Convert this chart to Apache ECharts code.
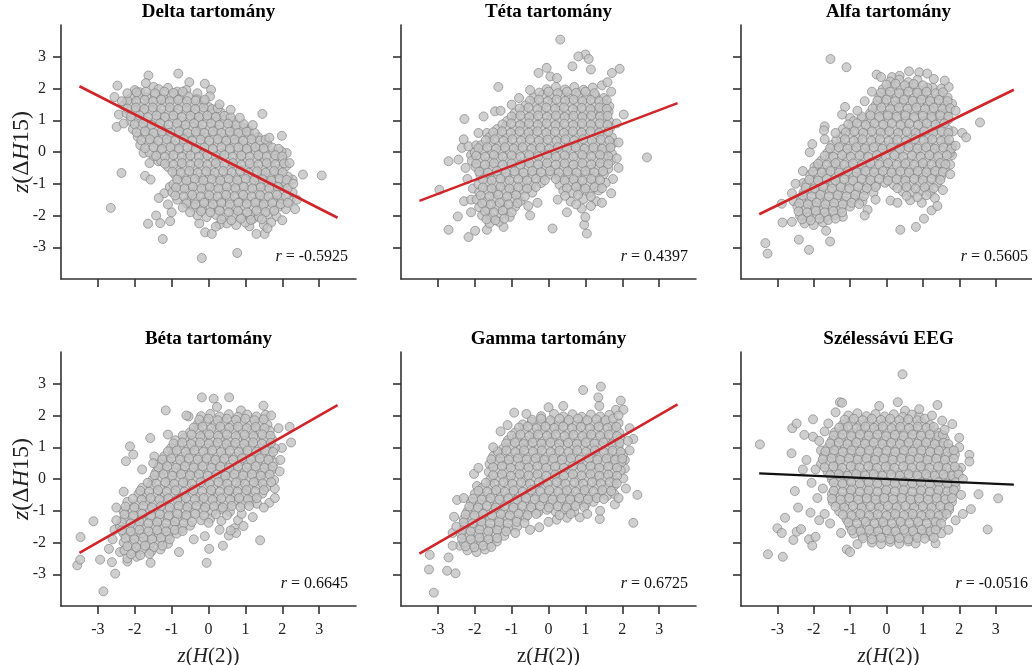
<!DOCTYPE html>
<html><head><meta charset="utf-8">
<script src="https://cdn.jsdelivr.net/npm/echarts@6/dist/echarts.min.js"></script>
<style>html,body{margin:0;padding:0;background:#fff}#c{width:1032px;height:665px}</style>
</head><body><div id="c"></div>
<script>
// ---------- data ----------
const panelTitles = ['Delta tartomány','Téta tartomány','Alfa tartomány','Béta tartomány','Gamma tartomány','Szélessávú EEG'];
const rValues = ['-0.5925','0.4397','0.5605','0.6645','0.6725','-0.0516'];
const tickValues = [-3,-2,-1,0,1,2,3];
const tickLabels = ['-3','-2','-1','0','1','2','3'];

// regression line end points [x, y]
const lineDelta = [[-3.5,2.07],[3.5,-2.07]];
const lineTheta = [[-3.5,-1.54],[3.5,1.54]];
const lineAlpha = [[-3.5,-1.96],[3.5,1.96]];
const lineBeta  = [[-3.5,-2.33],[3.5,2.33]];
const lineGamma = [[-3.5,-2.35],[3.5,2.35]];
const lineBroad = [[-3.5,0.18],[3.5,-0.18]];

// scatter points, flat [x, y, x, y, ...]
const deltaXY = [
-2.65,-1.76,-2.47,2.09,-2.55,1.73,-2.43,1.18,-2.49,0.79,-2.36,-0.66,-1.72,-0.75,-1.57,-0.87,-1.64,-2.26,-1.42,-2.0,-1.31,-2.24,-1.24,-2.74,-1.04,-2.18,-1.0,-1.9,-0.18,-3.34,0.78,-3.18,-0.09,-2.53,0.09,-2.58,-0.25,-2.25,-1.63,2.41,-1.7,2.17,-1.49,2.05,-0.82,2.47,-0.52,2.2,-0.1,2.15,0.07,1.96,0.04,1.75,1.46,1.2,1.99,0.51,2.56,-0.71,3.07,-0.74,2.28,-0.87,2.35,-1.8,2.12,-0.03,1.52,-2.58,1.3,-2.58,1.11,-2.34,1.22,-2.1,-1.1,-1.65,-1.2,-1.3,-1.05,-1.1,-1.49,-0.14,-1.36,-0.29,-1.76,-0.03,
-2.0,1.95,-1.85,1.88,-1.35,1.98,-1.1,2.02,-0.85,1.9,-0.6,1.95,-0.3,1.85,
-2.1,1.7,-1.9,1.78,-1.68,1.72,-1.45,1.8,-1.22,1.7,-1.0,1.78,-0.78,1.68,-0.55,1.75,-0.32,1.66,
-2.3,1.47,-2.08,1.52,-1.86,1.45,-1.62,1.55,-1.4,1.48,-1.17,1.56,-0.94,1.46,-0.7,1.53,-0.47,1.45,-0.22,1.5,0.0,1.42,
-2.22,1.22,-2.0,1.3,-1.76,1.25,-1.53,1.3,-1.3,1.2,-1.07,1.28,-0.84,1.22,-0.6,1.3,-0.37,1.2,-0.14,1.27,0.1,1.2,0.33,1.25,
-2.12,0.98,-1.9,1.05,-1.66,0.96,-1.42,1.04,-1.2,0.97,-0.96,1.05,-0.72,0.96,-0.5,1.03,-0.26,0.97,-0.03,1.04,0.2,0.95,0.44,1.02,0.67,0.98,
-2.05,0.72,-1.83,0.8,-1.6,0.72,-1.36,0.78,-1.12,0.7,-0.9,0.78,-0.66,0.72,-0.43,0.8,-0.2,0.71,0.04,0.78,0.27,0.7,0.5,0.77,0.73,0.7,0.95,0.76,1.1,0.68,
-1.92,0.48,-1.7,0.55,-1.46,0.47,-1.23,0.53,-1.0,0.46,-0.77,0.54,-0.54,0.47,-0.3,0.55,-0.07,0.46,0.16,0.53,0.4,0.45,0.63,0.52,0.86,0.46,1.1,0.54,1.35,0.47,
-1.85,0.22,-1.62,0.3,-1.38,0.2,-1.15,0.28,-0.92,0.21,-0.68,0.3,-0.45,0.22,-0.22,0.28,0.02,0.2,0.25,0.3,0.48,0.21,0.72,0.28,0.95,0.2,1.18,0.27,1.4,0.2,1.6,0.26,
-1.6,-0.02,-1.3,0.05,-1.05,-0.03,-0.82,0.05,-0.58,-0.04,-0.35,0.04,-0.12,-0.03,0.12,0.05,0.35,-0.04,0.58,0.04,0.82,-0.03,1.05,0.05,1.28,-0.02,1.52,0.04,1.75,-0.04,1.98,0.02,
-1.28,-0.28,-1.05,-0.2,-0.8,-0.28,-0.57,-0.2,-0.34,-0.29,-0.1,-0.21,0.14,-0.28,0.37,-0.2,0.6,-0.29,0.84,-0.21,1.07,-0.28,1.3,-0.2,1.54,-0.29,1.77,-0.21,2.02,-0.27,
-1.1,-0.47,-0.88,-0.55,-0.64,-0.48,-0.4,-0.55,-0.16,-0.46,0.07,-0.54,0.3,-0.47,0.54,-0.55,0.77,-0.46,1.0,-0.54,1.24,-0.47,1.47,-0.55,1.7,-0.47,1.93,-0.53,2.1,-0.45,
-0.9,-0.72,-0.67,-0.8,-0.43,-0.71,-0.2,-0.79,0.04,-0.72,0.27,-0.8,0.5,-0.71,0.74,-0.79,0.97,-0.72,1.2,-0.8,1.44,-0.71,1.67,-0.78,1.9,-0.7,2.15,-0.77,
-0.95,-1.02,-0.72,-0.96,-0.48,-1.04,-0.25,-0.97,-0.02,-1.05,0.22,-0.96,0.45,-1.04,0.68,-0.97,0.92,-1.05,1.15,-0.96,1.38,-1.03,1.62,-0.97,1.85,-1.04,2.1,-0.97,
-0.98,-1.27,-0.75,-1.2,-0.52,-1.28,-0.28,-1.21,-0.05,-1.29,0.18,-1.2,0.42,-1.28,0.65,-1.21,0.88,-1.29,1.12,-1.2,1.35,-1.28,1.58,-1.21,1.82,-1.28,2.05,-1.2,2.28,-1.27,
-0.85,-1.5,-0.6,-1.56,-0.36,-1.48,-0.12,-1.55,0.12,-1.47,0.35,-1.55,0.58,-1.48,0.82,-1.56,1.05,-1.47,1.28,-1.54,1.52,-1.46,1.75,-1.54,1.98,-1.47,2.22,-1.53,
-0.42,-1.72,-0.18,-1.8,0.05,-1.73,0.28,-1.8,0.52,-1.72,0.75,-1.79,0.98,-1.71,1.22,-1.78,1.45,-1.71,1.68,-1.79,1.92,-1.72,2.1,-1.8,
-0.3,-2.0,-0.05,-2.05,0.2,-1.98,0.43,-2.06,0.67,-1.99,0.9,-2.05,1.13,-1.98,1.37,-2.04,1.6,-1.97,1.85,-2.03,
0.5,-2.25,0.75,-2.3,1.0,-2.22,1.5,-2.3,1.7,-2.22,0.3,-2.28,
-1.95,1.88,-1.7,1.9,-1.45,1.85,-1.2,1.9,-0.95,1.86,-0.7,1.9,
-2.2,1.62,-1.96,1.6,-1.73,1.64,-1.5,1.6,-1.28,1.65,-1.05,1.6,-0.82,1.64,-0.58,1.6,-0.35,1.62,-0.12,1.6,
-2.2,1.37,-1.97,1.4,-1.74,1.35,-1.51,1.4,-1.28,1.36,-1.05,1.4,-0.82,1.35,-0.59,1.39,-0.36,1.35,-0.13,1.4,0.1,1.35,0.25,1.38,
-2.1,1.12,-1.87,1.15,-1.64,1.1,-1.41,1.15,-1.18,1.1,-0.95,1.15,-0.72,1.1,-0.49,1.14,-0.26,1.1,-0.03,1.15,0.2,1.1,0.43,1.14,0.6,1.1,
-2.0,0.87,-1.77,0.9,-1.54,0.85,-1.31,0.9,-1.08,0.86,-0.85,0.9,-0.62,0.85,-0.39,0.9,-0.16,0.86,0.07,0.9,0.3,0.85,0.53,0.89,0.76,0.85,0.95,0.88,
-1.95,0.62,-1.72,0.65,-1.49,0.6,-1.26,0.65,-1.03,0.61,-0.8,0.65,-0.57,0.6,-0.34,0.64,-0.11,0.6,0.12,0.65,0.35,0.6,0.58,0.64,0.81,0.6,1.04,0.64,1.25,0.6,
-1.82,0.37,-1.59,0.4,-1.36,0.35,-1.13,0.4,-0.9,0.36,-0.67,0.4,-0.44,0.35,-0.21,0.39,0.02,0.35,0.25,0.4,0.48,0.35,0.71,0.39,0.94,0.35,1.17,0.4,1.4,0.36,1.55,0.39,
-1.72,0.12,-1.49,0.15,-1.26,0.1,-1.03,0.15,-0.8,0.11,-0.57,0.15,-0.34,0.1,-0.11,0.14,0.12,0.1,0.35,0.15,0.58,0.1,0.81,0.14,1.04,0.1,1.27,0.15,1.5,0.11,1.73,0.14,1.9,0.1,
-1.42,-0.12,-1.18,-0.15,-0.95,-0.1,-0.72,-0.15,-0.49,-0.11,-0.26,-0.15,-0.03,-0.1,0.2,-0.14,0.43,-0.1,0.66,-0.15,0.89,-0.11,1.12,-0.15,1.35,-0.1,1.58,-0.14,1.81,-0.1,2.0,-0.14,
-1.18,-0.37,-0.95,-0.4,-0.72,-0.35,-0.49,-0.4,-0.26,-0.36,-0.03,-0.4,0.2,-0.35,0.43,-0.39,0.66,-0.35,0.89,-0.4,1.12,-0.36,1.35,-0.4,1.58,-0.35,1.81,-0.39,2.05,-0.36,
-0.98,-0.62,-0.75,-0.65,-0.52,-0.6,-0.29,-0.65,-0.06,-0.61,0.17,-0.65,0.4,-0.6,0.63,-0.64,0.86,-0.6,1.09,-0.65,1.32,-0.61,1.55,-0.65,1.78,-0.6,2.01,-0.64,
-0.85,-0.87,-0.6,-0.9,-0.37,-0.85,-0.14,-0.9,0.09,-0.86,0.32,-0.9,0.55,-0.85,0.78,-0.89,1.01,-0.85,1.24,-0.9,1.47,-0.86,1.7,-0.9,1.93,-0.85,2.12,-0.88,
-0.88,-1.12,-0.65,-1.15,-0.42,-1.1,-0.19,-1.15,0.04,-1.11,0.27,-1.15,0.5,-1.1,0.73,-1.14,0.96,-1.1,1.19,-1.15,1.42,-1.11,1.65,-1.15,1.88,-1.1,2.15,-1.14,
-0.9,-1.37,-0.67,-1.4,-0.44,-1.35,-0.21,-1.4,0.02,-1.36,0.25,-1.4,0.48,-1.35,0.71,-1.39,0.94,-1.35,1.17,-1.4,1.4,-1.36,1.63,-1.4,1.86,-1.35,2.1,-1.39,
-0.6,-1.62,-0.36,-1.65,-0.12,-1.6,0.12,-1.65,0.35,-1.61,0.58,-1.65,0.81,-1.6,1.04,-1.64,1.27,-1.6,1.5,-1.65,1.73,-1.61,1.96,-1.64,2.15,-1.6,
-0.2,-1.87,0.05,-1.9,0.3,-1.85,0.55,-1.9,0.8,-1.86,1.05,-1.9,1.3,-1.85,1.55,-1.89,1.78,-1.85,
0.35,-2.12,0.62,-2.15,0.88,-2.1,1.15,-2.14,1.45,-2.12
];
const deltaEdge = [0.6,1.33,0.85,1.08,1.2,0.85,1.65,0.45,2.2,-0.35,2.3,-1.0,2.4,-1.5,2.0,-2.15,1.6,-2.4,0.2,-2.35,-0.5,-1.9,-0.7,-1.75,-1.35,-1.45,-1.6,-0.35,-2.3,0.9,-2.35,1.6,-2.2,1.85,-0.1,1.65,0.3,1.5];
const thetaXY = [
0.32,3.54,1.0,3.07,1.09,2.93,0.81,3.01,0.65,2.7,1.15,2.6,1.93,2.62,1.72,2.49,-0.05,2.65,-0.27,2.49,0.05,2.38,0.23,2.33,-1.36,2.05,-2.28,1.04,-1.76,1.12,-1.0,1.49,-2.71,-0.29,-2.44,-0.24,-2.96,-1.19,-2.35,0.13,-2.17,0.18,-1.96,0.21,-2.46,-2.03,-2.71,-2.45,-2.17,-2.68,-1.99,-2.48,-1.67,-2.45,-1.22,-2.36,0.11,-2.41,1.04,-2.57,0.97,-2.29,2.67,-0.17,2.04,1.18,-2.29,-1.55,-2.1,-1.5,-1.67,0.6,-1.45,1.28,-2.1,-0.1,-2.2,-0.85,-2.05,-1.15,1.75,-0.85,1.9,-0.5,
-0.05,1.98,0.2,2.05,0.45,1.97,0.7,2.05,0.95,1.96,1.2,2.03,1.45,2.1,
-0.4,1.72,-0.16,1.8,0.08,1.72,0.32,1.79,0.55,1.7,0.8,1.78,1.03,1.7,1.27,1.77,1.5,1.7,
-0.62,1.47,-0.38,1.55,-0.15,1.47,0.1,1.54,0.33,1.46,0.57,1.55,0.8,1.47,1.04,1.53,1.27,1.45,1.5,1.52,1.65,1.44,
-0.92,1.22,-0.68,1.29,-0.44,1.2,-0.2,1.28,0.04,1.21,0.27,1.29,0.5,1.2,0.74,1.27,0.97,1.2,1.2,1.28,1.43,1.21,1.63,1.27,
-1.12,0.98,-0.88,1.04,-0.64,0.96,-0.4,1.03,-0.17,0.95,0.07,1.04,0.3,0.97,0.54,1.05,0.77,0.96,1.0,1.03,1.24,0.97,1.47,1.04,1.65,0.96,
-1.4,0.72,-1.16,0.8,-0.92,0.71,-0.68,0.79,-0.45,0.7,-0.21,0.78,0.03,0.71,0.26,0.79,0.5,0.7,0.73,0.78,0.97,0.72,1.2,0.8,1.44,0.71,1.68,0.77,
-1.6,0.47,-1.36,0.55,-1.12,0.46,-0.88,0.54,-0.64,0.47,-0.41,0.55,-0.17,0.46,0.06,0.53,0.3,0.46,0.53,0.54,0.77,0.47,1.0,0.55,1.24,0.46,1.47,0.53,1.72,0.46,
-1.82,0.22,-1.58,0.3,-1.34,0.21,-1.1,0.28,-0.86,0.2,-0.62,0.29,-0.38,0.21,-0.15,0.28,0.09,0.2,0.32,0.29,0.56,0.21,0.8,0.28,1.03,0.2,1.27,0.28,1.5,0.21,1.74,0.27,
-2.0,-0.02,-1.76,0.05,-1.52,-0.04,-1.28,0.04,-1.04,-0.03,-0.8,0.05,-0.57,-0.04,-0.33,0.04,-0.09,-0.03,0.14,0.05,0.38,-0.04,0.62,0.04,0.85,-0.03,1.09,0.05,1.32,-0.02,1.56,0.04,1.72,-0.05,
-2.08,-0.28,-1.84,-0.2,-1.6,-0.29,-1.36,-0.21,-1.12,-0.28,-0.88,-0.2,-0.64,-0.29,-0.4,-0.21,-0.16,-0.28,0.08,-0.2,0.31,-0.29,0.55,-0.21,0.78,-0.28,1.02,-0.2,1.26,-0.29,1.5,-0.21,1.7,-0.28,
-1.98,-0.47,-1.74,-0.55,-1.5,-0.46,-1.26,-0.54,-1.02,-0.47,-0.78,-0.55,-0.54,-0.46,-0.3,-0.54,-0.06,-0.47,0.18,-0.55,0.42,-0.46,0.65,-0.54,0.89,-0.47,1.13,-0.55,1.37,-0.46,1.62,-0.53,
-1.85,-0.72,-1.6,-0.8,-1.37,-0.71,-1.13,-0.79,-0.9,-0.7,-0.66,-0.78,-0.42,-0.72,-0.18,-0.8,0.06,-0.71,0.3,-0.79,0.54,-0.72,0.78,-0.8,1.02,-0.71,1.26,-0.78,1.5,-0.7,
-1.9,-1.02,-1.66,-0.96,-1.42,-1.05,-1.18,-0.97,-0.94,-1.04,-0.7,-0.96,-0.46,-1.04,-0.2,-0.98,0.3,-1.03,0.55,-0.96,0.8,-1.04,1.05,-0.97,1.3,-1.04,1.55,-0.97,
-1.88,-1.27,-1.64,-1.2,-1.4,-1.28,-1.16,-1.21,-0.92,-1.29,-0.68,-1.2,-0.44,-1.28,0.4,-1.22,0.64,-1.29,0.88,-1.2,1.12,-1.28,1.36,-1.21,
-1.95,-1.5,-1.72,-1.56,-1.48,-1.48,-1.24,-1.55,-1.0,-1.47,-0.76,-1.54,0.25,-1.5,0.6,-1.56,0.95,-1.48,1.3,-1.55,
-1.88,-1.74,-1.64,-1.8,-1.4,-1.72,-1.16,-1.79,-0.9,-1.72,0.9,-1.78,1.15,-1.7,
-1.8,-2.0,-1.55,-2.06,-1.3,-1.98,-1.05,-2.04,1.0,-2.05,
-1.6,-2.25,-1.35,-2.2,
-0.25,1.87,0.0,1.9,0.25,1.85,0.5,1.9,0.75,1.86,1.0,1.9,1.25,1.85,
-0.5,1.62,-0.26,1.65,-0.02,1.6,0.22,1.65,0.45,1.61,0.68,1.65,0.92,1.6,1.15,1.64,1.38,1.6,1.58,1.63,
-0.78,1.37,-0.54,1.4,-0.3,1.35,-0.06,1.4,0.18,1.36,0.42,1.4,0.66,1.35,0.9,1.39,1.14,1.35,1.38,1.4,1.58,1.36,
-1.0,1.12,-0.76,1.15,-0.52,1.1,-0.28,1.15,-0.04,1.11,0.2,1.15,0.44,1.1,0.68,1.14,0.92,1.1,1.16,1.15,1.4,1.11,1.6,1.14,
-1.25,0.87,-1.01,0.9,-0.77,0.85,-0.53,0.9,-0.29,0.86,-0.05,0.9,0.19,0.85,0.43,0.89,0.67,0.85,0.91,0.9,1.15,0.86,1.39,0.9,1.6,0.85,
-1.5,0.62,-1.26,0.65,-1.02,0.6,-0.78,0.65,-0.54,0.61,-0.3,0.65,-0.06,0.6,0.18,0.64,0.42,0.6,0.66,0.65,0.9,0.61,1.14,0.65,1.38,0.6,1.62,0.64,
-1.7,0.37,-1.46,0.4,-1.22,0.35,-0.98,0.4,-0.74,0.36,-0.5,0.4,-0.26,0.35,-0.02,0.39,0.22,0.35,0.46,0.4,0.7,0.36,0.94,0.4,1.18,0.35,1.42,0.39,1.65,0.35,
-1.9,0.12,-1.66,0.15,-1.42,0.1,-1.18,0.15,-0.94,0.11,-0.7,0.15,-0.46,0.1,-0.22,0.14,0.02,0.1,0.26,0.15,0.5,0.11,0.74,0.15,0.98,0.1,1.22,0.14,1.46,0.1,1.68,0.14,
-1.96,-0.12,-1.72,-0.15,-1.48,-0.1,-1.24,-0.15,-1.0,-0.11,-0.76,-0.15,-0.52,-0.1,-0.28,-0.14,-0.04,-0.1,0.2,-0.15,0.44,-0.11,0.68,-0.15,0.92,-0.1,1.16,-0.14,1.4,-0.1,1.62,-0.14,
-1.96,-0.37,-1.72,-0.4,-1.48,-0.35,-1.24,-0.4,-1.0,-0.36,-0.76,-0.4,-0.52,-0.35,-0.28,-0.39,-0.04,-0.35,0.2,-0.4,0.44,-0.36,0.68,-0.4,0.92,-0.35,1.16,-0.39,1.4,-0.35,1.62,-0.38,
-1.88,-0.62,-1.64,-0.65,-1.4,-0.6,-1.16,-0.65,-0.92,-0.61,-0.68,-0.65,-0.44,-0.6,-0.2,-0.64,0.04,-0.6,0.28,-0.65,0.52,-0.61,0.76,-0.65,1.0,-0.6,1.24,-0.64,1.48,-0.6,
-1.78,-0.87,-1.54,-0.9,-1.3,-0.85,-1.06,-0.9,-0.82,-0.86,-0.58,-0.9,-0.34,-0.85,-0.1,-0.89,0.2,-0.85,0.44,-0.9,0.68,-0.86,0.92,-0.9,1.16,-0.85,1.4,-0.89,
-1.78,-1.12,-1.54,-1.15,-1.3,-1.1,-1.06,-1.15,-0.82,-1.11,-0.58,-1.15,-0.34,-1.1,0.5,-1.14,0.75,-1.1,1.0,-1.15,1.25,-1.11,1.45,-1.14,
-1.84,-1.37,-1.6,-1.4,-1.36,-1.35,-1.12,-1.4,-0.88,-1.36,-0.64,-1.4,0.45,-1.38,0.8,-1.35,1.15,-1.4,
-1.8,-1.62,-1.56,-1.65,-1.32,-1.6,-1.08,-1.65,-0.84,-1.61,0.75,-1.65,
-1.72,-1.87,-1.48,-1.9,-1.24,-1.85,-1.0,-1.9,
-1.68,-2.12,-1.44,-2.15,-1.2,-2.1
];
const thetaEdge = [1.85,0.9,1.9,0.3,1.85,-0.2,1.7,-1.3,1.45,-1.6,0.5,-1.9,-0.3,-1.6,-0.55,-1.7,-2.25,-0.5,-2.3,0.4,-1.9,0.6,-1.3,1.3,-0.8,1.7,-0.5,1.95,1.6,2.2,1.7,1.9,-2.1,-1.9,-0.5,-2.0];
const alphaXY = [
-1.54,2.93,-1.1,2.67,-3.33,-2.87,-3.27,-3.2,-2.86,-2.22,-2.41,-2.76,-2.13,-3.08,-1.55,-2.82,-1.66,-2.48,0.38,-2.45,0.81,-2.36,1.03,-2.1,1.24,-1.84,0.11,-1.53,-0.52,-1.82,2.57,0.93,2.08,0.6,2.19,0.46,1.83,0.65,-2.11,-0.01,-2.04,0.25,-1.9,-0.45,-1.7,0.81,-1.72,0.68,-1.14,1.42,-1.22,1.18,-1.0,1.07,-0.27,2.44,-0.15,2.36,0.15,2.36,0.36,2.4,0.62,2.54,0.9,2.51,1.12,2.47,1.27,2.02,1.51,2.0,1.71,2.05,-2.29,-0.98,-2.88,-1.63,-2.6,-2.2,-2.55,-1.55,1.75,-0.4,1.8,-0.1,
0.1,2.22,0.35,2.28,0.6,2.2,0.85,2.27,
-0.1,1.98,0.15,2.05,0.4,1.97,0.64,2.04,0.88,1.96,1.12,2.03,
-0.2,1.72,0.04,1.8,0.28,1.71,0.52,1.79,0.76,1.7,1.0,1.78,1.24,1.7,1.48,1.78,1.68,1.72,
-0.3,1.47,-0.06,1.55,0.18,1.46,0.42,1.54,0.66,1.47,0.9,1.55,1.14,1.46,1.38,1.53,1.6,1.46,1.8,1.52,
-0.45,1.22,-0.2,1.29,0.04,1.2,0.28,1.28,0.52,1.21,0.76,1.29,1.0,1.2,1.24,1.27,1.48,1.21,1.7,1.28,
-0.9,0.97,-0.66,1.04,-0.42,0.96,-0.18,1.03,0.06,0.96,0.3,1.04,0.54,0.97,0.78,1.05,1.02,0.96,1.26,1.03,1.5,0.96,1.7,1.02,
-1.2,0.72,-0.96,0.8,-0.72,0.71,-0.48,0.79,-0.24,0.7,0.0,0.78,0.24,0.71,0.48,0.79,0.72,0.7,0.96,0.78,1.2,0.71,1.44,0.79,1.68,0.72,
-1.25,0.47,-1.01,0.55,-0.77,0.46,-0.53,0.54,-0.29,0.46,-0.05,0.55,0.19,0.47,0.43,0.54,0.67,0.46,0.91,0.55,1.15,0.47,1.39,0.53,1.62,0.46,
-1.5,0.22,-1.26,0.3,-1.02,0.21,-0.78,0.29,-0.54,0.2,-0.3,0.28,-0.06,0.21,0.18,0.29,0.42,0.2,0.66,0.28,0.9,0.21,1.14,0.29,1.38,0.2,1.62,0.27,1.8,0.2,
-1.62,-0.02,-1.38,0.05,-1.14,-0.04,-0.9,0.04,-0.66,-0.03,-0.42,0.05,-0.18,-0.04,0.06,0.04,0.3,-0.03,0.54,0.05,0.78,-0.02,1.02,0.04,1.26,-0.04,1.5,0.05,1.74,-0.03,
-1.8,-0.28,-1.56,-0.2,-1.32,-0.29,-1.08,-0.21,-0.84,-0.28,-0.6,-0.2,-0.36,-0.29,-0.12,-0.21,0.12,-0.28,0.36,-0.2,0.6,-0.29,0.84,-0.21,1.08,-0.28,1.32,-0.2,1.56,-0.27,
-1.98,-0.47,-1.74,-0.55,-1.5,-0.46,-1.26,-0.54,-1.02,-0.47,-0.78,-0.55,-0.54,-0.46,-0.3,-0.54,-0.06,-0.47,0.18,-0.55,0.42,-0.46,0.66,-0.54,0.9,-0.47,1.14,-0.55,1.38,-0.46,1.6,-0.53,
-2.1,-0.72,-1.86,-0.8,-1.62,-0.71,-1.38,-0.79,-1.14,-0.7,-0.9,-0.78,-0.66,-0.72,-0.42,-0.8,-0.18,-0.71,0.06,-0.79,0.3,-0.72,0.54,-0.8,0.78,-0.71,1.02,-0.78,1.26,-0.7,1.5,-0.77,
-2.2,-1.02,-1.96,-0.96,-1.72,-1.05,-1.48,-0.97,-1.24,-1.04,-1.0,-0.96,-0.76,-1.04,-0.52,-0.97,-0.28,-1.05,-0.04,-0.97,0.2,-1.04,0.44,-0.96,0.68,-1.03,0.92,-0.97,1.16,-1.04,1.4,-0.97,
-2.28,-1.27,-2.04,-1.2,-1.8,-1.28,-1.56,-1.21,-1.32,-1.29,-1.08,-1.2,-0.84,-1.28,-0.6,-1.21,-0.36,-1.28,0.45,-1.25,0.7,-1.3,0.95,-1.22,1.2,-1.28,
-2.35,-1.5,-2.1,-1.56,-1.86,-1.48,-1.62,-1.55,-1.38,-1.47,-1.14,-1.54,-0.9,-1.48,-0.66,-1.55,0.65,-1.52,0.97,-1.6,1.33,-1.45,
-2.45,-1.72,-2.2,-1.8,-1.96,-1.73,-1.72,-1.8,-1.48,-1.72,-1.24,-1.79,-1.0,-1.72,
-2.38,-2.0,-2.14,-2.05,-1.9,-1.98,-1.66,-2.05,-1.42,-1.98,-1.2,-2.04,
-2.25,-2.25,-2.0,-2.3,-1.75,-2.22,
0.0,2.12,0.25,2.15,0.5,2.1,0.75,2.14,1.0,2.1,
-0.15,1.87,0.1,1.9,0.35,1.85,0.6,1.9,0.85,1.86,1.1,1.9,1.35,1.85,1.55,1.88,
-0.25,1.62,0.0,1.65,0.24,1.6,0.48,1.65,0.72,1.61,0.96,1.65,1.2,1.6,1.44,1.64,1.68,1.6,
-0.38,1.37,-0.14,1.4,0.1,1.35,0.34,1.4,0.58,1.36,0.82,1.4,1.06,1.35,1.3,1.39,1.54,1.35,1.75,1.38,
-0.68,1.12,-0.44,1.15,-0.2,1.1,0.04,1.15,0.28,1.11,0.52,1.15,0.76,1.1,1.0,1.14,1.24,1.1,1.48,1.15,1.7,1.11,
-1.05,0.87,-0.81,0.9,-0.57,0.85,-0.33,0.9,-0.09,0.86,0.15,0.9,0.39,0.85,0.63,0.89,0.87,0.85,1.11,0.9,1.35,0.86,1.59,0.9,
-1.12,0.62,-0.88,0.65,-0.64,0.6,-0.4,0.65,-0.16,0.61,0.08,0.65,0.32,0.6,0.56,0.64,0.8,0.6,1.04,0.65,1.28,0.61,1.52,0.65,1.7,0.6,
-1.38,0.37,-1.14,0.4,-0.9,0.35,-0.66,0.4,-0.42,0.36,-0.18,0.4,0.06,0.35,0.3,0.39,0.54,0.35,0.78,0.4,1.02,0.36,1.26,0.4,1.5,0.35,1.72,0.39,
-1.55,0.12,-1.31,0.15,-1.07,0.1,-0.83,0.15,-0.59,0.11,-0.35,0.15,-0.11,0.1,0.13,0.14,0.37,0.1,0.61,0.15,0.85,0.11,1.09,0.15,1.33,0.1,1.57,0.14,1.78,0.1,
-1.7,-0.12,-1.46,-0.15,-1.22,-0.1,-0.98,-0.15,-0.74,-0.11,-0.5,-0.15,-0.26,-0.1,-0.02,-0.14,0.22,-0.1,0.46,-0.15,0.7,-0.11,0.94,-0.15,1.18,-0.1,1.42,-0.14,1.66,-0.1,
-1.88,-0.37,-1.64,-0.4,-1.4,-0.35,-1.16,-0.4,-0.92,-0.36,-0.68,-0.4,-0.44,-0.35,-0.2,-0.39,0.04,-0.35,0.28,-0.4,0.52,-0.36,0.76,-0.4,1.0,-0.35,1.24,-0.39,1.48,-0.35,1.62,-0.39,
-2.02,-0.62,-1.78,-0.65,-1.54,-0.6,-1.3,-0.65,-1.06,-0.61,-0.82,-0.65,-0.58,-0.6,-0.34,-0.64,-0.1,-0.6,0.14,-0.65,0.38,-0.61,0.62,-0.65,0.86,-0.6,1.1,-0.64,1.34,-0.6,1.55,-0.63,
-2.12,-0.87,-1.88,-0.9,-1.64,-0.85,-1.4,-0.9,-1.16,-0.86,-0.92,-0.9,-0.68,-0.85,-0.44,-0.89,-0.2,-0.85,0.04,-0.9,0.28,-0.86,0.52,-0.9,0.76,-0.85,1.0,-0.89,1.24,-0.85,1.48,-0.88,
-2.22,-1.12,-1.98,-1.15,-1.74,-1.1,-1.5,-1.15,-1.26,-1.11,-1.02,-1.15,-0.78,-1.1,-0.54,-1.14,-0.3,-1.1,0.3,-1.14,0.55,-1.1,0.8,-1.15,1.05,-1.11,1.3,-1.14,
-2.3,-1.37,-2.06,-1.4,-1.82,-1.35,-1.58,-1.4,-1.34,-1.36,-1.1,-1.4,-0.86,-1.35,-0.62,-1.39,0.55,-1.38,0.85,-1.42,1.1,-1.36,
-2.4,-1.62,-2.16,-1.65,-1.92,-1.6,-1.68,-1.65,-1.44,-1.61,-1.2,-1.65,-0.96,-1.6,-0.75,-1.64,
-2.42,-1.87,-2.18,-1.9,-1.94,-1.85,-1.7,-1.9,-1.46,-1.86,-1.22,-1.9,
-2.32,-2.12,-2.08,-2.15,-1.84,-2.1,-1.6,-2.14,-1.4,-2.1
];
const alphaEdge = [1.9,1.3,1.9,0.2,1.75,-0.7,1.55,-1.2,1.4,-1.7,0.3,-1.6,-0.3,-1.5,-0.6,-2.0,-2.6,-1.3,-2.5,-1.0,-2.3,-0.6,-1.7,0.4,-1.4,0.6,-0.8,1.3,-0.6,1.6,-0.4,1.9,1.3,2.3,1.6,2.25];
const betaXY = [
-2.85,-3.54,-3.56,-2.72,-3.48,-2.54,-3.47,-1.83,-3.12,-1.33,-2.94,-2.54,-2.62,-2.62,-2.53,-2.98,-1.57,-2.64,-0.05,-2.64,0.02,-2.2,0.39,-2.1,1.4,-1.93,-2.24,0.56,-2.13,1.03,-2.04,0.77,-1.58,1.29,-1.47,0.71,-1.16,2.16,-0.18,2.57,0.14,2.53,0.56,2.57,0.23,2.27,0.88,2.16,1.49,2.31,2.2,1.64,2.24,1.15,1.99,0.98,1.93,0.24,-0.54,1.97,-2.4,-2.3,-2.2,-2.6,-2.55,-1.6,-2.6,-1.9,0.8,-1.3,0.9,-1.1,1.65,-0.75,1.8,-0.3,
-0.2,1.98,0.05,2.05,0.3,1.97,0.55,2.04,0.8,1.96,1.05,2.03,1.3,1.97,1.55,2.02,
-0.3,1.72,-0.06,1.8,0.18,1.71,0.42,1.79,0.66,1.7,0.9,1.78,1.14,1.7,1.38,1.77,1.6,1.71,
-0.5,1.47,-0.26,1.55,-0.02,1.46,0.22,1.54,0.46,1.47,0.7,1.55,0.94,1.46,1.18,1.53,1.42,1.46,1.66,1.52,
-0.9,1.22,-0.66,1.29,-0.42,1.2,-0.18,1.28,0.06,1.21,0.3,1.29,0.54,1.2,0.78,1.27,1.02,1.21,1.26,1.28,1.5,1.2,1.72,1.26,
-1.02,0.97,-0.78,1.04,-0.54,0.96,-0.3,1.03,-0.06,0.96,0.18,1.04,0.42,0.97,0.66,1.05,0.9,0.96,1.14,1.03,1.38,0.96,1.62,1.03,1.8,0.97,
-1.2,0.72,-0.96,0.8,-0.72,0.71,-0.48,0.79,-0.24,0.7,0.0,0.78,0.24,0.71,0.48,0.79,0.72,0.7,0.96,0.78,1.2,0.71,1.44,0.79,1.68,0.72,
-1.32,0.47,-1.08,0.55,-0.84,0.46,-0.6,0.54,-0.36,0.46,-0.12,0.55,0.12,0.47,0.36,0.54,0.6,0.46,0.84,0.55,1.08,0.47,1.32,0.53,1.56,0.46,1.78,0.52,
-1.42,0.22,-1.18,0.3,-0.94,0.21,-0.7,0.29,-0.46,0.2,-0.22,0.28,0.02,0.21,0.26,0.29,0.5,0.2,0.74,0.28,0.98,0.21,1.22,0.29,1.46,0.2,1.7,0.27,
-1.52,-0.02,-1.28,0.05,-1.04,-0.04,-0.8,0.04,-0.56,-0.03,-0.32,0.05,-0.08,-0.04,0.16,0.04,0.4,-0.03,0.64,0.05,0.88,-0.02,1.12,0.04,1.36,-0.04,1.6,0.05,1.78,-0.03,
-1.8,-0.28,-1.56,-0.2,-1.32,-0.29,-1.08,-0.21,-0.84,-0.28,-0.6,-0.2,-0.36,-0.29,-0.12,-0.21,0.12,-0.28,0.36,-0.2,0.6,-0.29,0.84,-0.21,1.08,-0.28,1.32,-0.2,1.56,-0.27,
-1.9,-0.47,-1.66,-0.55,-1.42,-0.46,-1.18,-0.54,-0.94,-0.47,-0.7,-0.55,-0.46,-0.46,-0.22,-0.54,0.02,-0.47,0.26,-0.55,0.5,-0.46,0.74,-0.54,0.98,-0.47,1.22,-0.55,1.46,-0.46,
-2.2,-0.72,-1.96,-0.8,-1.72,-0.71,-1.48,-0.79,-1.24,-0.7,-1.0,-0.78,-0.76,-0.72,-0.52,-0.8,-0.28,-0.71,-0.04,-0.79,0.2,-0.72,0.44,-0.8,0.68,-0.71,0.92,-0.78,1.16,-0.7,1.32,-0.78,
-2.3,-1.02,-2.06,-0.96,-1.82,-1.05,-1.58,-0.97,-1.34,-1.04,-1.1,-0.96,-0.86,-1.04,-0.62,-0.97,-0.38,-1.05,-0.14,-0.97,0.1,-1.04,0.34,-0.96,0.58,-1.03,
-2.3,-1.27,-2.06,-1.2,-1.82,-1.28,-1.58,-1.21,-1.34,-1.29,-1.1,-1.2,-0.86,-1.28,-0.62,-1.21,-0.2,-1.3,0.05,-1.25,0.35,-1.32,
-2.4,-1.5,-2.16,-1.56,-1.92,-1.48,-1.68,-1.55,-1.44,-1.47,-1.2,-1.54,-0.96,-1.48,-0.72,-1.55,-0.5,-1.47,0.7,-1.55,0.95,-1.48,
-2.3,-1.72,-2.06,-1.8,-1.82,-1.73,-1.58,-1.8,-1.34,-1.72,-1.1,-1.79,-0.86,-1.72,0.55,-1.78,0.75,-1.7,
-2.3,-2.0,-2.06,-2.05,-1.82,-1.98,-1.58,-2.05,-1.34,-1.98,-1.1,-2.04,
-2.28,-2.25,-2.04,-2.3,-1.8,-2.22,-1.55,-2.28,-1.3,-2.22,
-2.2,-2.5,-1.95,-2.45,
-0.25,1.87,0.0,1.9,0.25,1.85,0.5,1.9,0.75,1.86,1.0,1.9,1.25,1.85,1.5,1.88,
-0.4,1.62,-0.16,1.65,0.08,1.6,0.32,1.65,0.56,1.61,0.8,1.65,1.04,1.6,1.28,1.64,1.52,1.6,
-0.7,1.37,-0.46,1.4,-0.22,1.35,0.02,1.4,0.26,1.36,0.5,1.4,0.74,1.35,0.98,1.39,1.22,1.35,1.46,1.4,1.68,1.36,
-0.95,1.12,-0.71,1.15,-0.47,1.1,-0.23,1.15,0.01,1.11,0.25,1.15,0.49,1.1,0.73,1.14,0.97,1.1,1.21,1.15,1.45,1.11,1.69,1.14,
-1.1,0.87,-0.86,0.9,-0.62,0.85,-0.38,0.9,-0.14,0.86,0.1,0.9,0.34,0.85,0.58,0.89,0.82,0.85,1.06,0.9,1.3,0.86,1.54,0.9,1.75,0.85,
-1.25,0.62,-1.01,0.65,-0.77,0.6,-0.53,0.65,-0.29,0.61,-0.05,0.65,0.19,0.6,0.43,0.64,0.67,0.6,0.91,0.65,1.15,0.61,1.39,0.65,1.63,0.6,
-1.36,0.37,-1.12,0.4,-0.88,0.35,-0.64,0.4,-0.4,0.36,-0.16,0.4,0.08,0.35,0.32,0.39,0.56,0.35,0.8,0.4,1.04,0.36,1.28,0.4,1.52,0.35,1.74,0.39,
-1.46,0.12,-1.22,0.15,-0.98,0.1,-0.74,0.15,-0.5,0.11,-0.26,0.15,-0.02,0.1,0.22,0.14,0.46,0.1,0.7,0.15,0.94,0.11,1.18,0.15,1.42,0.1,1.66,0.14,
-1.65,-0.12,-1.41,-0.15,-1.17,-0.1,-0.93,-0.15,-0.69,-0.11,-0.45,-0.15,-0.21,-0.1,0.03,-0.14,0.27,-0.1,0.51,-0.15,0.75,-0.11,0.99,-0.15,1.23,-0.1,1.47,-0.14,1.7,-0.1,
-1.85,-0.37,-1.61,-0.4,-1.37,-0.35,-1.13,-0.4,-0.89,-0.36,-0.65,-0.4,-0.41,-0.35,-0.17,-0.39,0.07,-0.35,0.31,-0.4,0.55,-0.36,0.79,-0.4,1.03,-0.35,1.27,-0.39,1.5,-0.35,
-2.05,-0.62,-1.81,-0.65,-1.57,-0.6,-1.33,-0.65,-1.09,-0.61,-0.85,-0.65,-0.61,-0.6,-0.37,-0.64,-0.13,-0.6,0.11,-0.65,0.35,-0.61,0.59,-0.65,0.83,-0.6,1.07,-0.64,1.31,-0.6,
-2.25,-0.87,-2.01,-0.9,-1.77,-0.85,-1.53,-0.9,-1.29,-0.86,-1.05,-0.9,-0.81,-0.85,-0.57,-0.89,-0.33,-0.85,-0.09,-0.9,0.15,-0.86,0.39,-0.9,0.63,-0.85,0.87,-0.89,1.1,-0.85,
-2.28,-1.12,-2.04,-1.15,-1.8,-1.1,-1.56,-1.15,-1.32,-1.11,-1.08,-1.15,-0.84,-1.1,-0.6,-1.14,-0.36,-1.1,-0.12,-1.15,0.2,-1.11,0.5,-1.14,
-2.35,-1.37,-2.11,-1.4,-1.87,-1.35,-1.63,-1.4,-1.39,-1.36,-1.15,-1.4,-0.91,-1.35,-0.67,-1.39,-0.45,-1.35,0.0,-1.38,
-2.35,-1.62,-2.11,-1.65,-1.87,-1.6,-1.63,-1.65,-1.39,-1.61,-1.15,-1.65,-0.91,-1.6,-0.7,-1.64,0.6,-1.62,
-2.25,-1.87,-2.01,-1.9,-1.77,-1.85,-1.53,-1.9,-1.29,-1.86,-1.05,-1.9,
-2.2,-2.12,-1.96,-2.15,-1.72,-2.1,-1.48,-2.14,-1.25,-2.1,
-2.1,-2.37,-1.85,-2.4,-1.6,-2.36
];
const betaEdge = [1.9,1.6,1.95,0.6,1.8,-0.6,1.5,-0.9,1.2,-1.2,0.3,-1.6,-0.1,-1.8,-0.4,-1.9,-2.5,-1.3,-2.5,-0.9,-2.3,-0.4,-1.8,0.3,-1.5,0.5,-1.1,1.4,-0.6,2.0,1.7,2.0,-2.7,-2.2,-0.8,-2.3];
const gammaXY = [
-3.11,-3.58,-3.24,-2.85,-3.22,-2.39,-2.75,-2.89,-2.52,-2.97,-2.71,-2.47,-2.48,-0.66,-2.56,-1.19,-2.02,0.16,-1.94,-0.22,-0.93,2.09,-1.11,1.7,0.0,2.26,0.94,2.8,1.42,2.91,1.35,2.57,1.38,2.3,1.96,2.47,1.83,2.18,2.03,2.18,2.3,1.26,2.41,-0.5,2.3,-1.38,-0.25,-1.52,0.85,-1.21,1.39,-1.26,2.07,0.6,2.07,0.33,2.03,0.02,-2.6,-1.7,-2.4,-2.1,2.2,1.6,1.8,-0.8,
-0.2,1.98,0.15,2.05,0.4,1.97,0.65,2.04,0.9,1.96,1.15,2.03,1.4,1.97,1.65,2.02,
-0.7,1.72,-0.45,1.8,-0.2,1.71,0.04,1.79,0.28,1.7,0.52,1.78,0.76,1.7,1.0,1.77,1.24,1.71,1.48,1.78,1.72,1.7,1.9,1.76,
-0.9,1.47,-0.66,1.55,-0.42,1.46,-0.18,1.54,0.06,1.47,0.3,1.55,0.54,1.46,0.78,1.53,1.02,1.46,1.26,1.52,1.5,1.45,1.74,1.53,1.92,1.46,
-1.1,1.22,-0.86,1.29,-0.62,1.2,-0.38,1.28,-0.14,1.21,0.1,1.29,0.34,1.2,0.58,1.27,0.82,1.21,1.06,1.28,1.3,1.2,1.54,1.26,1.78,1.2,1.95,1.27,
-1.22,0.97,-0.98,1.04,-0.74,0.96,-0.5,1.03,-0.26,0.96,-0.02,1.04,0.22,0.97,0.46,1.05,0.7,0.96,0.94,1.03,1.18,0.96,1.42,1.03,1.66,0.96,1.9,1.02,
-1.5,0.72,-1.26,0.8,-1.02,0.71,-0.78,0.79,-0.54,0.7,-0.3,0.78,-0.06,0.71,0.18,0.79,0.42,0.7,0.66,0.78,0.9,0.71,1.14,0.79,1.38,0.72,1.62,0.78,1.86,0.7,2.02,0.77,
-1.6,0.47,-1.36,0.55,-1.12,0.46,-0.88,0.54,-0.64,0.46,-0.4,0.55,-0.16,0.47,0.08,0.54,0.32,0.46,0.56,0.55,0.8,0.47,1.04,0.53,1.28,0.46,1.52,0.52,1.76,0.46,1.98,0.53,
-1.62,0.22,-1.38,0.3,-1.14,0.21,-0.9,0.29,-0.66,0.2,-0.42,0.28,-0.18,0.21,0.06,0.29,0.3,0.2,0.54,0.28,0.78,0.21,1.02,0.29,1.26,0.2,1.5,0.27,1.74,0.2,1.96,0.27,
-1.58,-0.02,-1.34,0.05,-1.1,-0.04,-0.86,0.04,-0.62,-0.03,-0.38,0.05,-0.14,-0.04,0.1,0.04,0.34,-0.03,0.58,0.05,0.82,-0.02,1.06,0.04,1.3,-0.04,1.54,0.05,1.78,-0.03,
-1.8,-0.28,-1.56,-0.2,-1.32,-0.29,-1.08,-0.21,-0.84,-0.28,-0.6,-0.2,-0.36,-0.29,-0.12,-0.21,0.12,-0.28,0.36,-0.2,0.6,-0.29,0.84,-0.21,1.08,-0.28,1.32,-0.2,1.56,-0.27,1.78,-0.21,
-2.0,-0.47,-1.76,-0.55,-1.52,-0.46,-1.28,-0.54,-1.04,-0.47,-0.8,-0.55,-0.56,-0.46,-0.32,-0.54,-0.08,-0.47,0.16,-0.55,0.4,-0.46,0.64,-0.54,0.88,-0.47,1.12,-0.55,1.36,-0.46,1.6,-0.53,1.78,-0.47,
-2.1,-0.72,-1.86,-0.8,-1.62,-0.71,-1.38,-0.79,-1.14,-0.7,-0.9,-0.78,-0.66,-0.72,-0.42,-0.8,-0.18,-0.71,0.06,-0.79,0.3,-0.72,0.54,-0.8,0.78,-0.71,1.02,-0.78,1.22,-0.72,
-2.2,-1.02,-1.96,-0.96,-1.72,-1.05,-1.48,-0.97,-1.24,-1.04,-1.0,-0.96,-0.76,-1.04,-0.52,-0.97,-0.28,-1.05,-0.04,-0.97,0.2,-1.04,0.44,-0.96,0.7,-1.03,
-2.3,-1.27,-2.06,-1.2,-1.82,-1.28,-1.58,-1.21,-1.34,-1.29,-1.1,-1.2,-0.86,-1.28,-0.62,-1.21,0.22,-1.28,0.5,-1.22,
-2.3,-1.5,-2.06,-1.56,-1.82,-1.48,-1.58,-1.55,-1.34,-1.47,-1.1,-1.54,-0.85,-1.5,
-2.38,-1.72,-2.14,-1.8,-1.9,-1.73,-1.66,-1.8,-1.42,-1.72,-1.2,-1.79,
-2.3,-2.0,-2.06,-2.05,-1.82,-1.98,-1.58,-2.04,-1.4,-1.97,
-2.2,-2.25,-1.95,-2.3,-1.72,-2.22,
-0.45,1.87,-0.2,1.9,0.05,1.85,0.3,1.9,0.55,1.86,0.8,1.9,1.05,1.85,1.3,1.88,1.55,1.85,1.75,1.9,
-0.8,1.62,-0.56,1.65,-0.32,1.6,-0.08,1.65,0.16,1.61,0.4,1.65,0.64,1.6,0.88,1.64,1.12,1.6,1.36,1.65,1.6,1.61,1.84,1.64,
-1.0,1.37,-0.76,1.4,-0.52,1.35,-0.28,1.4,-0.04,1.36,0.2,1.4,0.44,1.35,0.68,1.39,0.92,1.35,1.16,1.4,1.4,1.36,1.64,1.4,1.86,1.35,
-1.15,1.12,-0.91,1.15,-0.67,1.1,-0.43,1.15,-0.19,1.11,0.05,1.15,0.29,1.1,0.53,1.14,0.77,1.1,1.01,1.15,1.25,1.11,1.49,1.15,1.73,1.1,1.93,1.14,
-1.38,0.87,-1.14,0.9,-0.9,0.85,-0.66,0.9,-0.42,0.86,-0.18,0.9,0.06,0.85,0.3,0.89,0.54,0.85,0.78,0.9,1.02,0.86,1.26,0.9,1.5,0.85,1.74,0.89,1.96,0.85,
-1.55,0.62,-1.31,0.65,-1.07,0.6,-0.83,0.65,-0.59,0.61,-0.35,0.65,-0.11,0.6,0.13,0.64,0.37,0.6,0.61,0.65,0.85,0.61,1.09,0.65,1.33,0.6,1.57,0.64,1.81,0.6,2.0,0.64,
-1.5,0.37,-1.26,0.4,-1.02,0.35,-0.78,0.4,-0.54,0.36,-0.3,0.4,-0.06,0.35,0.18,0.39,0.42,0.35,0.66,0.4,0.9,0.36,1.14,0.4,1.38,0.35,1.62,0.39,1.86,0.35,
-1.5,0.12,-1.26,0.15,-1.02,0.1,-0.78,0.15,-0.54,0.11,-0.3,0.15,-0.06,0.1,0.18,0.14,0.42,0.1,0.66,0.15,0.9,0.11,1.14,0.15,1.38,0.1,1.62,0.14,1.86,0.1,
-1.7,-0.12,-1.46,-0.15,-1.22,-0.1,-0.98,-0.15,-0.74,-0.11,-0.5,-0.15,-0.26,-0.1,-0.02,-0.14,0.22,-0.1,0.46,-0.15,0.7,-0.11,0.94,-0.15,1.18,-0.1,1.42,-0.14,1.66,-0.1,1.85,-0.14,
-1.9,-0.37,-1.66,-0.4,-1.42,-0.35,-1.18,-0.4,-0.94,-0.36,-0.7,-0.4,-0.46,-0.35,-0.22,-0.39,0.02,-0.35,0.26,-0.4,0.5,-0.36,0.74,-0.4,0.98,-0.35,1.22,-0.39,1.46,-0.35,1.7,-0.38,
-2.05,-0.62,-1.81,-0.65,-1.57,-0.6,-1.33,-0.65,-1.09,-0.61,-0.85,-0.65,-0.61,-0.6,-0.37,-0.64,-0.13,-0.6,0.11,-0.65,0.35,-0.61,0.59,-0.65,0.83,-0.6,1.07,-0.64,1.31,-0.6,1.5,-0.63,
-2.15,-0.87,-1.91,-0.9,-1.67,-0.85,-1.43,-0.9,-1.19,-0.86,-0.95,-0.9,-0.71,-0.85,-0.47,-0.89,-0.23,-0.85,0.01,-0.9,0.25,-0.86,0.49,-0.9,0.73,-0.85,0.97,-0.89,
-2.25,-1.12,-2.01,-1.15,-1.77,-1.1,-1.53,-1.15,-1.29,-1.11,-1.05,-1.15,-0.81,-1.1,-0.57,-1.14,-0.33,-1.1,0.3,-1.14,0.6,-1.1,
-2.3,-1.37,-2.06,-1.4,-1.82,-1.35,-1.58,-1.4,-1.34,-1.36,-1.1,-1.4,-0.86,-1.35,-0.65,-1.39,
-2.35,-1.62,-2.11,-1.65,-1.87,-1.6,-1.63,-1.65,-1.39,-1.61,-1.15,-1.65,
-2.35,-1.87,-2.11,-1.9,-1.87,-1.85,-1.63,-1.9,-1.39,-1.86,
-2.25,-2.12,-2.01,-2.15,-1.77,-2.1,-1.55,-2.14
];
const gammaEdge = [2.15,1.2,2.2,0.9,2.1,-0.3,1.9,-0.6,1.4,-1.0,1.05,-1.1,0.0,-1.35,-0.5,-1.6,-0.9,-1.7,-2.6,-2.1,-2.5,-1.5,-2.3,-0.6,-1.9,0.35,-1.5,1.0,-1.3,1.5,-0.6,2.05,0.4,2.3,1.9,2.0];
const broadXY = [
0.44,3.3,-3.48,1.09,-3.26,-2.37,-2.85,-2.45,-2.79,-1.22,-3.0,-1.55,-2.88,-1.7,-2.56,-1.92,-2.47,-1.66,-2.35,-1.58,-2.43,-0.9,-2.52,-0.38,-2.61,0.81,-2.59,1.6,-2.47,1.75,-2.26,1.39,-2.02,1.88,-2.02,1.33,-2.06,-0.12,-2.09,-1.06,-2.13,-1.9,-2.04,-2.1,-1.95,-1.82,-1.09,-2.22,-1.0,-2.3,-1.28,2.42,-1.22,2.4,0.31,2.42,0.51,2.15,1.4,2.33,1.81,1.73,1.53,1.84,1.35,-2.03,2.78,-1.59,3.07,-0.61,2.53,-0.48,2.32,-0.95,2.28,0.76,2.28,0.55,2.0,1.0,1.51,-1.71,-2.2,0.6,-2.3,0.3,-1.9,-0.6,-1.85,-1.3,-1.8,0.9,-1.7,-1.1,2.1,-1.1,2.05,0.35,
-1.05,2.0,-0.8,2.07,-0.55,1.98,-0.3,2.05,-0.05,1.97,0.2,2.04,0.45,1.96,0.7,2.03,0.9,1.97,
-1.2,1.72,-0.96,1.8,-0.72,1.71,-0.48,1.79,-0.24,1.7,0.0,1.78,0.24,1.7,0.48,1.77,0.72,1.71,0.96,1.78,1.2,1.7,
-1.42,1.47,-1.18,1.55,-0.94,1.46,-0.7,1.54,-0.46,1.47,-0.22,1.55,0.02,1.46,0.26,1.53,0.5,1.46,0.74,1.52,0.98,1.45,1.22,1.53,1.42,1.46,
-1.5,1.22,-1.26,1.29,-1.02,1.2,-0.78,1.28,-0.54,1.21,-0.3,1.29,-0.06,1.2,0.18,1.27,0.42,1.21,0.66,1.28,0.9,1.2,1.14,1.26,1.38,1.2,1.6,1.27,
-1.62,0.97,-1.38,1.04,-1.14,0.96,-0.9,1.03,-0.66,0.96,-0.42,1.04,-0.18,0.97,0.06,1.05,0.3,0.96,0.54,1.03,0.78,0.96,1.02,1.03,1.26,0.96,1.5,1.02,1.74,0.96,
-1.72,0.72,-1.48,0.8,-1.24,0.71,-1.0,0.79,-0.76,0.7,-0.52,0.78,-0.28,0.71,-0.04,0.79,0.2,0.7,0.44,0.78,0.68,0.71,0.92,0.79,1.16,0.72,1.4,0.78,1.64,0.7,1.88,0.77,
-1.8,0.47,-1.56,0.55,-1.32,0.46,-1.08,0.54,-0.84,0.46,-0.6,0.55,-0.36,0.47,-0.12,0.54,0.12,0.46,0.36,0.55,0.6,0.47,0.84,0.53,1.08,0.46,1.32,0.52,1.56,0.46,1.8,0.53,
-1.62,0.22,-1.38,0.3,-1.14,0.21,-0.9,0.29,-0.66,0.2,-0.42,0.28,-0.18,0.21,0.06,0.29,0.3,0.2,0.54,0.28,0.78,0.21,1.02,0.29,1.26,0.2,1.5,0.27,1.74,0.2,1.96,0.27,
-1.5,-0.02,-1.26,0.05,-1.02,-0.04,-0.78,0.04,-0.54,-0.03,-0.3,0.05,-0.06,-0.04,0.18,0.04,0.42,-0.03,0.66,0.05,0.9,-0.02,1.14,0.04,1.38,-0.04,1.62,0.05,1.86,-0.03,
-1.4,-0.28,-1.16,-0.2,-0.92,-0.29,-0.68,-0.21,-0.44,-0.28,-0.2,-0.2,0.04,-0.29,0.28,-0.21,0.52,-0.28,0.76,-0.2,1.0,-0.29,1.24,-0.21,1.48,-0.28,1.72,-0.2,1.9,-0.27,
-1.5,-0.47,-1.26,-0.55,-1.02,-0.46,-0.78,-0.54,-0.54,-0.47,-0.3,-0.55,-0.06,-0.46,0.18,-0.54,0.42,-0.47,0.66,-0.55,0.9,-0.46,1.14,-0.53,1.38,-0.46,1.62,-0.53,1.8,-0.47,
-1.48,-0.72,-1.24,-0.8,-1.0,-0.71,-0.76,-0.79,-0.52,-0.7,-0.28,-0.78,-0.04,-0.72,0.2,-0.8,0.44,-0.71,0.68,-0.79,0.92,-0.72,1.16,-0.8,1.4,-0.71,1.64,-0.78,1.8,-0.72,
-1.3,-1.02,-1.06,-0.96,-0.82,-1.05,-0.58,-0.97,-0.34,-1.04,-0.1,-0.96,0.14,-1.04,0.38,-0.97,0.62,-1.05,0.86,-0.97,1.1,-1.04,1.34,-0.96,1.58,-1.03,1.72,-0.97,
-1.1,-1.27,-0.86,-1.2,-0.62,-1.28,-0.38,-1.21,-0.14,-1.29,0.1,-1.2,0.34,-1.28,0.58,-1.21,0.82,-1.28,1.06,-1.2,1.3,-1.27,1.54,-1.21,
-1.0,-1.5,-0.76,-1.56,-0.52,-1.48,-0.28,-1.55,-0.04,-1.47,0.2,-1.54,0.44,-1.48,0.68,-1.55,0.92,-1.47,1.16,-1.54,1.4,-1.48,
-0.9,-1.72,-0.66,-1.8,-0.42,-1.73,-0.18,-1.8,0.06,-1.72,0.3,-1.79,0.54,-1.71,0.78,-1.78,1.02,-1.72,1.22,-1.79,
-0.4,-2.0,-0.15,-2.05,0.1,-1.98,0.35,-2.04,0.6,-1.97,0.8,-2.03,
-1.15,1.87,-0.9,1.9,-0.65,1.85,-0.4,1.9,-0.15,1.86,0.1,1.9,0.35,1.85,0.6,1.88,0.85,1.85,1.05,1.9,
-1.3,1.62,-1.06,1.65,-0.82,1.6,-0.58,1.65,-0.34,1.61,-0.1,1.65,0.14,1.6,0.38,1.64,0.62,1.6,0.86,1.65,1.1,1.61,1.3,1.64,
-1.45,1.37,-1.21,1.4,-0.97,1.35,-0.73,1.4,-0.49,1.36,-0.25,1.4,-0.01,1.35,0.23,1.39,0.47,1.35,0.71,1.4,0.95,1.36,1.19,1.4,1.43,1.35,1.55,1.39,
-1.55,1.12,-1.31,1.15,-1.07,1.1,-0.83,1.15,-0.59,1.11,-0.35,1.15,-0.11,1.1,0.13,1.14,0.37,1.1,0.61,1.15,0.85,1.11,1.09,1.15,1.33,1.1,1.57,1.14,1.7,1.1,
-1.68,0.87,-1.44,0.9,-1.2,0.85,-0.96,0.9,-0.72,0.86,-0.48,0.9,-0.24,0.85,0.0,0.89,0.24,0.85,0.48,0.9,0.72,0.86,0.96,0.9,1.2,0.85,1.44,0.89,1.68,0.85,1.85,0.9,
-1.75,0.62,-1.51,0.65,-1.27,0.6,-1.03,0.65,-0.79,0.61,-0.55,0.65,-0.31,0.6,-0.07,0.64,0.17,0.6,0.41,0.65,0.65,0.61,0.89,0.65,1.13,0.6,1.37,0.64,1.61,0.6,1.85,0.64,
-1.7,0.37,-1.46,0.4,-1.22,0.35,-0.98,0.4,-0.74,0.36,-0.5,0.4,-0.26,0.35,-0.02,0.39,0.22,0.35,0.46,0.4,0.7,0.36,0.94,0.4,1.18,0.35,1.42,0.39,1.66,0.35,1.88,0.39,
-1.55,0.12,-1.31,0.15,-1.07,0.1,-0.83,0.15,-0.59,0.11,-0.35,0.15,-0.11,0.1,0.13,0.14,0.37,0.1,0.61,0.15,0.85,0.11,1.09,0.15,1.33,0.1,1.57,0.14,1.81,0.1,1.98,0.14,
-1.45,-0.12,-1.21,-0.15,-0.97,-0.1,-0.73,-0.15,-0.49,-0.11,-0.25,-0.15,-0.01,-0.1,0.23,-0.14,0.47,-0.1,0.71,-0.15,0.95,-0.11,1.19,-0.15,1.43,-0.1,1.67,-0.14,1.9,-0.1,
-1.45,-0.37,-1.21,-0.4,-0.97,-0.35,-0.73,-0.4,-0.49,-0.36,-0.25,-0.4,-0.01,-0.35,0.23,-0.39,0.47,-0.35,0.71,-0.4,0.95,-0.36,1.19,-0.4,1.43,-0.35,1.67,-0.39,1.85,-0.35,
-1.5,-0.62,-1.26,-0.65,-1.02,-0.6,-0.78,-0.65,-0.54,-0.61,-0.3,-0.65,-0.06,-0.6,0.18,-0.64,0.42,-0.6,0.66,-0.65,0.9,-0.61,1.14,-0.65,1.38,-0.6,1.62,-0.64,1.8,-0.6,
-1.4,-0.87,-1.16,-0.9,-0.92,-0.85,-0.68,-0.9,-0.44,-0.86,-0.2,-0.9,0.04,-0.85,0.28,-0.89,0.52,-0.85,0.76,-0.9,1.0,-0.86,1.24,-0.9,1.48,-0.85,1.72,-0.89,
-1.2,-1.12,-0.96,-1.15,-0.72,-1.1,-0.48,-1.15,-0.24,-1.11,0.0,-1.15,0.24,-1.1,0.48,-1.14,0.72,-1.1,0.96,-1.15,1.2,-1.11,1.44,-1.15,1.65,-1.1,
-1.05,-1.37,-0.81,-1.4,-0.57,-1.35,-0.33,-1.4,-0.09,-1.36,0.15,-1.4,0.39,-1.35,0.63,-1.39,0.87,-1.35,1.11,-1.4,1.35,-1.36,1.5,-1.4,
-0.95,-1.62,-0.71,-1.65,-0.47,-1.6,-0.23,-1.65,0.01,-1.61,0.25,-1.65,0.49,-1.6,0.73,-1.64,0.97,-1.6,1.21,-1.65,1.35,-1.6,
-0.65,-1.87,-0.4,-1.9,-0.15,-1.85,0.1,-1.9,0.35,-1.86,0.6,-1.9,0.85,-1.85,1.05,-1.88
];
const broadEdge = [-1.7,1.5,-1.6,1.75,-1.4,2.1,-0.2,2.3,0.9,2.2,1.25,2.0,1.6,1.55,2.0,1.3,2.1,0.0,2.05,-0.5,1.9,-1.3,1.7,-1.6,1.3,-1.85,-0.8,-2.05,-1.25,-1.7,-1.55,-1.4,-1.75,-0.3,-1.95,0.3,-1.85,1.2];

// ---------- build ----------
function toPairs(a){ const p=[]; for(let i=0;i<a.length;i+=2) p.push([a[i],a[i+1]]); return p; }
const pointSets = [deltaXY.concat(deltaEdge),thetaXY.concat(thetaEdge),alphaXY.concat(alphaEdge),betaXY.concat(betaEdge),gammaXY.concat(gammaEdge),broadXY.concat(broadEdge)];
const lineSets = [lineDelta,lineTheta,lineAlpha,lineBeta,lineGamma,lineBroad];
const lineColors = ['#d0262a','#d0262a','#d0262a','#d0262a','#d0262a','#111111'];

const FONT = "'Liberation Serif','Times New Roman',serif";
const lefts = [61,401,741], tops = [25,352], W = 295, H = 254;
const axisColor = '#333';

const grids=[], xAxes=[], yAxes=[], series=[], graphics=[];
for(let i=0;i<6;i++){
  const col=i%3, row=Math.floor(i/3);
  const L=lefts[col], T=tops[row];
  grids.push({left:L, top:T, width:W, height:H, containLabel:false});
  xAxes.push({type:'value', gridIndex:i, min:-4, max:4,
    splitLine:{show:false},
    axisLine:{onZero:false, lineStyle:{color:axisColor, width:1.6}},
    axisTick:{show:true, customValues:tickValues, length:8, lineStyle:{color:axisColor, width:1.6}},
    axisLabel:{show:row===1, customValues:tickValues, formatter:v=>tickLabels[tickValues.indexOf(v)], fontFamily:FONT, fontSize:16, color:'#222', margin:16}
  });
  yAxes.push({type:'value', gridIndex:i, min:-4, max:4,
    splitLine:{show:false},
    axisLine:{onZero:false, lineStyle:{color:axisColor, width:1.6}},
    axisTick:{show:true, customValues:tickValues, length:8, lineStyle:{color:axisColor, width:1.6}},
    axisLabel:{show:col===0, customValues:tickValues, formatter:v=>tickLabels[tickValues.indexOf(v)], fontFamily:FONT, fontSize:16, color:'#222', margin:15}
  });
  series.push({type:'scatter', xAxisIndex:i, yAxisIndex:i, data:toPairs(pointSets[i]),
    symbol:'circle', symbolSize:9, silent:true, animation:false,
    itemStyle:{color:'#c3c3c3', borderColor:'#7c7c7c', borderWidth:0.8}});
  series.push({type:'line', xAxisIndex:i, yAxisIndex:i, data:lineSets[i], symbol:'none', silent:true, animation:false, z:5,
    lineStyle:{color:lineColors[i], width:i===5?2.2:2.6}});
  graphics.push({type:'text', x:L+W/2, y:T-13, silent:true,
    style:{text:panelTitles[i], font:"bold 19px "+FONT, fill:'#000', textAlign:'center', textVerticalAlign:'middle'}});
  graphics.push({type:'text', x:L+287, y:T+232, silent:true,
    style:{text:'{i|r} = '+rValues[i], font:"16px "+FONT, fill:'#111', textAlign:'right', textVerticalAlign:'middle',
      rich:{i:{fontStyle:'italic', fontFamily:FONT, fontSize:16, fill:'#111'}}}});
  if(row===1){
    const zStyle = col===1 ? 'normal' : 'italic';
    graphics.push({type:'text', x:L+W/2, y:T+H+50, silent:true,
      style:{text:'{z|z}({h|H}(2))', font:"21px "+FONT, fill:'#222', textAlign:'center', textVerticalAlign:'middle',
        rich:{z:{fontStyle:zStyle, fontFamily:FONT, fontSize:21, fill:'#222'}, h:{fontStyle:'italic', fontFamily:FONT, fontSize:21, fill:'#222'}}}});
  }
  if(col===0){
    graphics.push({type:'text', x:22, y:T+H/2, rotation:Math.PI/2, silent:true,
      style:{text:'{z|z}(Δ{h|H}15)', font:"24px "+FONT, fill:'#222', textAlign:'center', textVerticalAlign:'middle',
        rich:{z:{fontStyle:'italic', fontFamily:FONT, fontSize:24, fill:'#222'}, h:{fontStyle:'italic', fontFamily:FONT, fontSize:24, fill:'#222'}}}});
  }
}

const chart = echarts.init(document.getElementById('c'), null, {renderer:'canvas'});
chart.setOption({animation:false, backgroundColor:'#fff', grid:grids, xAxis:xAxes, yAxis:yAxes, series:series, graphic:graphics});
</script></body></html>
